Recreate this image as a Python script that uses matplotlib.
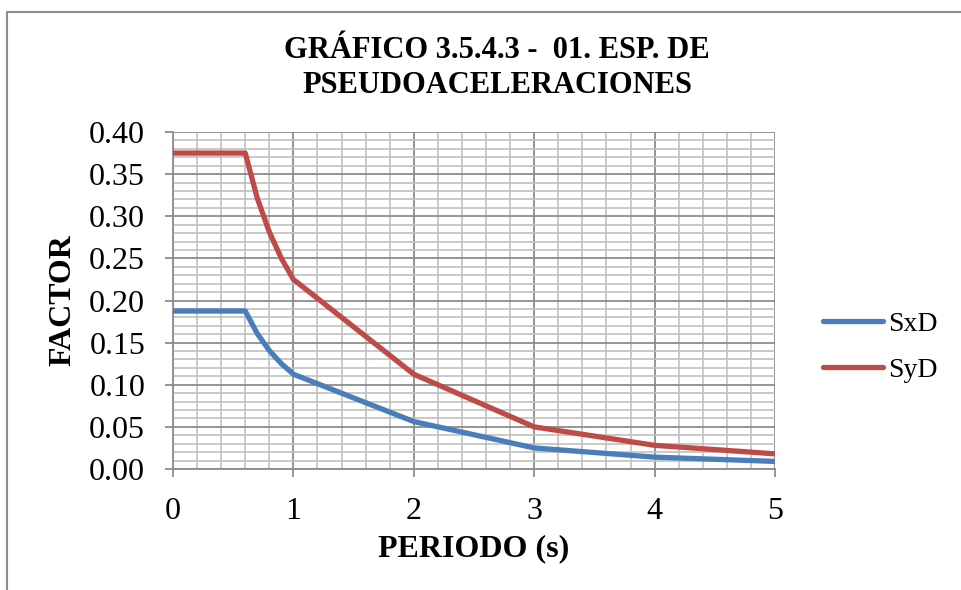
import matplotlib
matplotlib.use("Agg")

import matplotlib.pyplot as plt
from matplotlib.patches import Rectangle
from matplotlib.ticker import MultipleLocator

plt.rcParams["font.family"] = ["Liberation Serif", "DejaVu Serif"]

periods = [0.0, 0.1, 0.2, 0.3, 0.4, 0.5, 0.6, 0.7, 0.8, 0.9, 1.0, 2.0, 3.0, 4.0, 5.0]
sxd = [0.1875, 0.1875, 0.1875, 0.1875, 0.1875, 0.1875, 0.1875,
       0.1607, 0.1406, 0.1250, 0.1125, 0.0563, 0.0250, 0.0141, 0.0090]
syd = [0.3750, 0.3750, 0.3750, 0.3750, 0.3750, 0.3750, 0.3750,
       0.3214, 0.2813, 0.2500, 0.2250, 0.1125, 0.0500, 0.0281, 0.0180]

fig = plt.figure(figsize=(9.61, 5.90), dpi=100)
ax = fig.add_axes([173 / 961, 1 - 469 / 590, 602 / 961, 337 / 590])

# outer chart border
fig.patches.append(Rectangle((7 / 961, -0.05), 1.1, 1 - 12 / 590 + 0.05,
                             transform=fig.transFigure, fill=False,
                             edgecolor="#8c8c8c", linewidth=1.5))

ax.plot(periods, sxd, color="#4a7ebb", lw=3.8, solid_capstyle="round",
        solid_joinstyle="round", label="SxD", zorder=3)
ax.plot(periods, syd, color="#be4b48", lw=3.8, solid_capstyle="round",
        solid_joinstyle="round", label="SyD", zorder=3)

ax.set_xlim(0, 5)
ax.set_ylim(0, 0.40)
ax.xaxis.set_major_locator(MultipleLocator(1))
ax.xaxis.set_minor_locator(MultipleLocator(0.2))
ax.yaxis.set_major_locator(MultipleLocator(0.05))
ax.yaxis.set_minor_locator(MultipleLocator(0.01))
ax.yaxis.set_major_formatter(lambda v, p: f"{v:.2f}")

ax.grid(which="major", color="#8c8c8c", lw=1.3)
ax.grid(which="minor", color="#c0c0c0", lw=1.2)
ax.set_axisbelow(True)

for s in ["top", "right"]:
    ax.spines[s].set_visible(False)
for s in ["left", "bottom"]:
    ax.spines[s].set_color("#8c8c8c")
    ax.spines[s].set_linewidth(1.3)

ax.tick_params(which="major", length=6, width=1.3, color="#8c8c8c",
               labelsize=23)
ax.tick_params(which="minor", length=0)
ax.tick_params(axis="y", pad=14)
ax.tick_params(axis="x", pad=14)

ax.set_xlabel("PERIODO (s)", fontsize=23, fontweight="bold", labelpad=6)
fig.text(63 / 961, 1 - 300 / 590, "FACTOR", rotation=90, fontsize=23,
         fontweight="bold", ha="center", va="center")

fig.text(497 / 961, 1 - 50 / 590, "GRÁFICO 3.5.4.3 -  01. ESP. DE",
         fontsize=22, fontweight="bold", ha="center", va="center")
fig.text(497 / 961, 1 - 85 / 590, "PSEUDOACELERACIONES",
         fontsize=22, fontweight="bold", ha="center", va="center")

ax.legend(loc="center left", bbox_to_anchor=(823 / 961, 1 - 347 / 590),
          bbox_transform=fig.transFigure, frameon=False, fontsize=20,
          borderpad=0, borderaxespad=0, handlelength=2.15,
          handletextpad=0.2, labelspacing=0.75)

fig.savefig("out.png", dpi=100)
plt.close(fig)
